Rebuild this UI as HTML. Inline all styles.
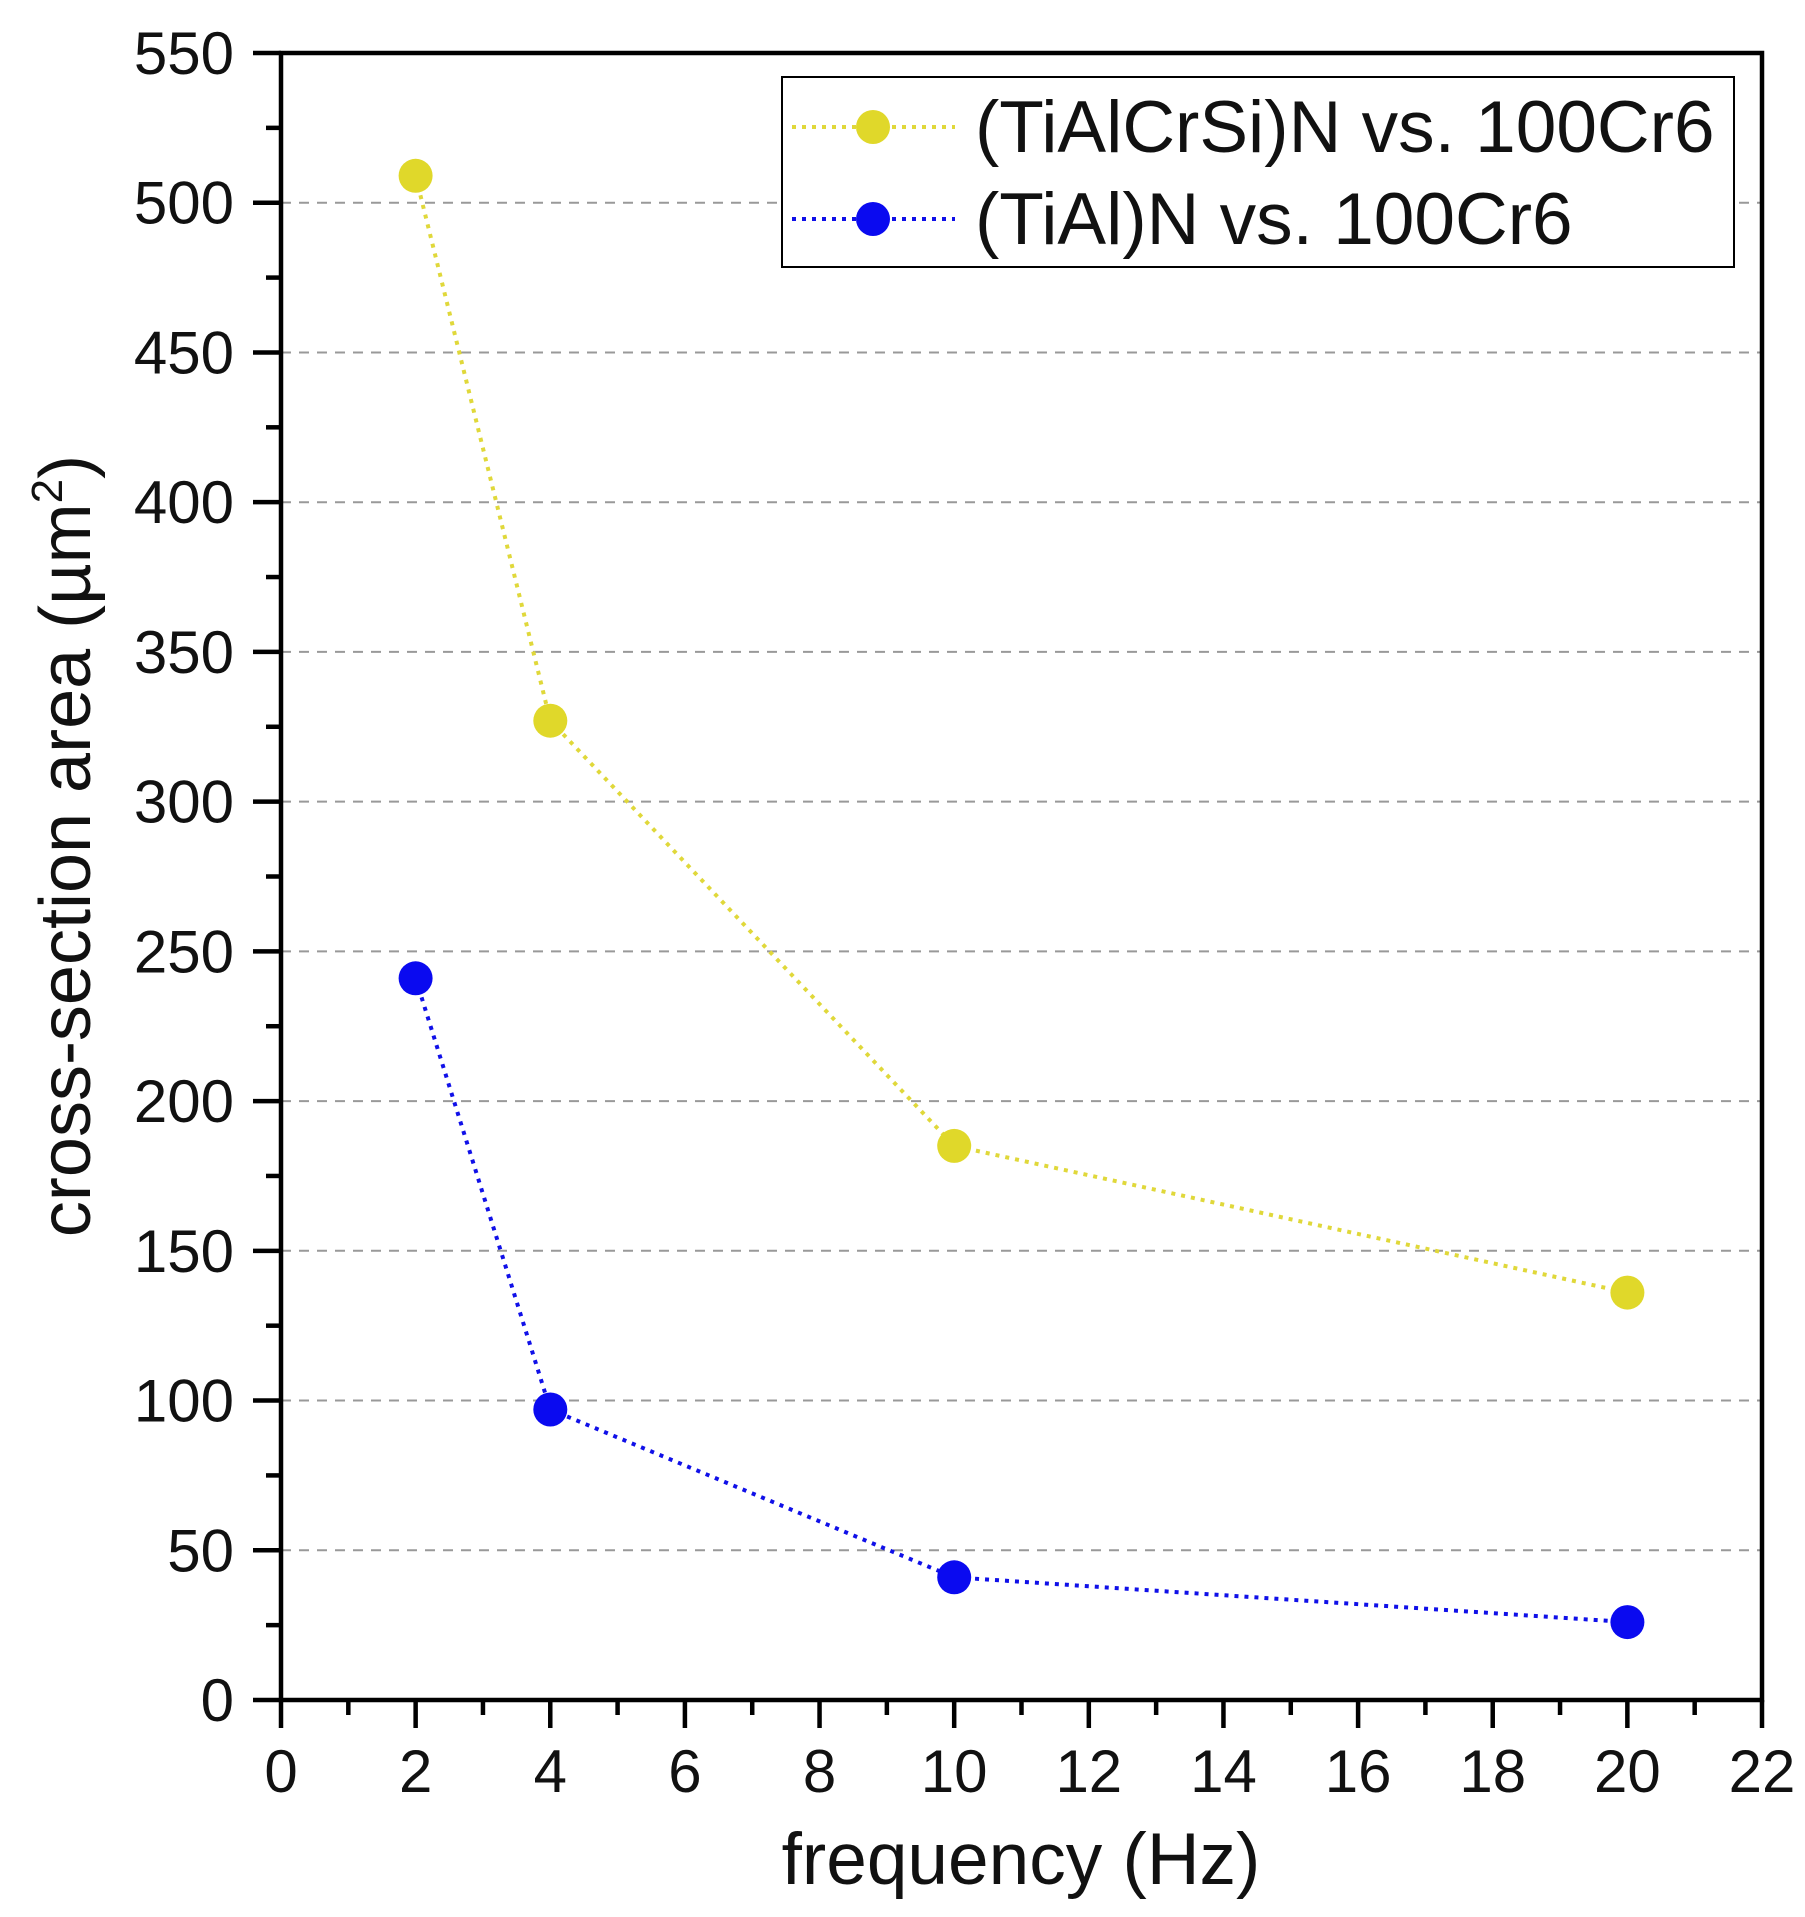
<!DOCTYPE html>
<html><head><style>body{margin:0;background:#fff}svg{display:block}</style></head><body>
<svg width="1805" height="1917" viewBox="0 0 1805 1917" xmlns="http://www.w3.org/2000/svg" font-family="Liberation Sans, Arial, sans-serif">
<rect width="1805" height="1917" fill="#fff"/>
<g stroke="#999" stroke-width="2" stroke-dasharray="10,8">
<line x1="281" x2="1762" y1="1550.3" y2="1550.3"/><line x1="281" x2="1762" y1="1400.5" y2="1400.5"/>
<line x1="281" x2="1762" y1="1250.8" y2="1250.8"/><line x1="281" x2="1762" y1="1101.1" y2="1101.1"/>
<line x1="281" x2="1762" y1="951.4" y2="951.4"/><line x1="281" x2="1762" y1="801.6" y2="801.6"/>
<line x1="281" x2="1762" y1="651.9" y2="651.9"/><line x1="281" x2="1762" y1="502.2" y2="502.2"/>
<line x1="281" x2="1762" y1="352.5" y2="352.5"/><line x1="281" x2="1762" y1="202.7" y2="202.7"/>
</g>
<rect x="281" y="53" width="1481" height="1647" fill="none" stroke="#000" stroke-width="4.5"/>
<g stroke="#000" stroke-width="4.5" id="ticks"></g>
<g font-size="60" fill="#111" text-anchor="end" id="ylab"></g>
<g font-size="60" fill="#111" text-anchor="middle" id="xlab"></g>
<polyline points="415.6,175.8 550.3,720.7 954.2,1145.9 1627.4,1292.6" fill="none" stroke="#e0d83a" stroke-width="4" stroke-dasharray="4,6"/>
<polyline points="415.6,978.3 550.3,1409.5 954.2,1577.3 1627.4,1622.1" fill="none" stroke="#1010e8" stroke-width="4" stroke-dasharray="4,6"/>
<g fill="#e0d82a"><circle cx="415.6" cy="175.8" r="17"/><circle cx="550.3" cy="720.7" r="17"/><circle cx="954.2" cy="1145.9" r="17"/><circle cx="1627.4" cy="1292.6" r="17"/></g>
<g fill="#0a0af0"><circle cx="415.6" cy="978.3" r="17"/><circle cx="550.3" cy="1409.5" r="17"/><circle cx="954.2" cy="1577.3" r="17"/><circle cx="1627.4" cy="1622.1" r="17"/></g>
<rect x="782" y="77" width="952" height="190" fill="#fff" stroke="#000" stroke-width="2"/>
<line x1="792" x2="955" y1="127" y2="127" stroke="#e0d83a" stroke-width="4" stroke-dasharray="4,6"/>
<circle cx="873" cy="127" r="17" fill="#e0d82a"/>
<line x1="792" x2="955" y1="219" y2="219" stroke="#1010e8" stroke-width="4" stroke-dasharray="4,6"/>
<circle cx="873" cy="219" r="17" fill="#0a0af0"/>
<text x="975" y="152" font-size="73" fill="#111">(TiAlCrSi)N vs. 100Cr6</text>
<text x="975" y="244" font-size="73" fill="#111">(TiAl)N vs. 100Cr6</text>
<text x="1021" y="1884" font-size="73" fill="#111" text-anchor="middle">frequency (Hz)</text>
<text transform="translate(90,846) rotate(-90)" font-size="72" fill="#111" text-anchor="middle">cross-section area (µm<tspan font-size="44" dy="-28">2</tspan><tspan dy="28">)</tspan></text>
</svg>
<script>
var ns="http://www.w3.org/2000/svg",t=document.getElementById("ticks"),yl=document.getElementById("ylab"),xl=document.getElementById("xlab");
function ln(a,b,c,d){var l=document.createElementNS(ns,"line");l.setAttribute("x1",a);l.setAttribute("x2",c);l.setAttribute("y1",b);l.setAttribute("y2",d);t.appendChild(l);}
for(var v=0;v<=550;v+=25){var y=1700-v*1647/550;var maj=v%50==0;ln(281-(maj?28:15),y,281,y);
if(maj){var s=document.createElementNS(ns,"text");s.setAttribute("x",234);s.setAttribute("y",y+21);s.textContent=v;yl.appendChild(s);}}
for(var v=0;v<=22;v++){var x=281+v*1481/22;var maj=v%2==0;ln(x,1700,x,1700+(maj?28:15));
if(maj){var s=document.createElementNS(ns,"text");s.setAttribute("x",x);s.setAttribute("y",1792);s.textContent=v;xl.appendChild(s);}}
</script>
</body></html>
